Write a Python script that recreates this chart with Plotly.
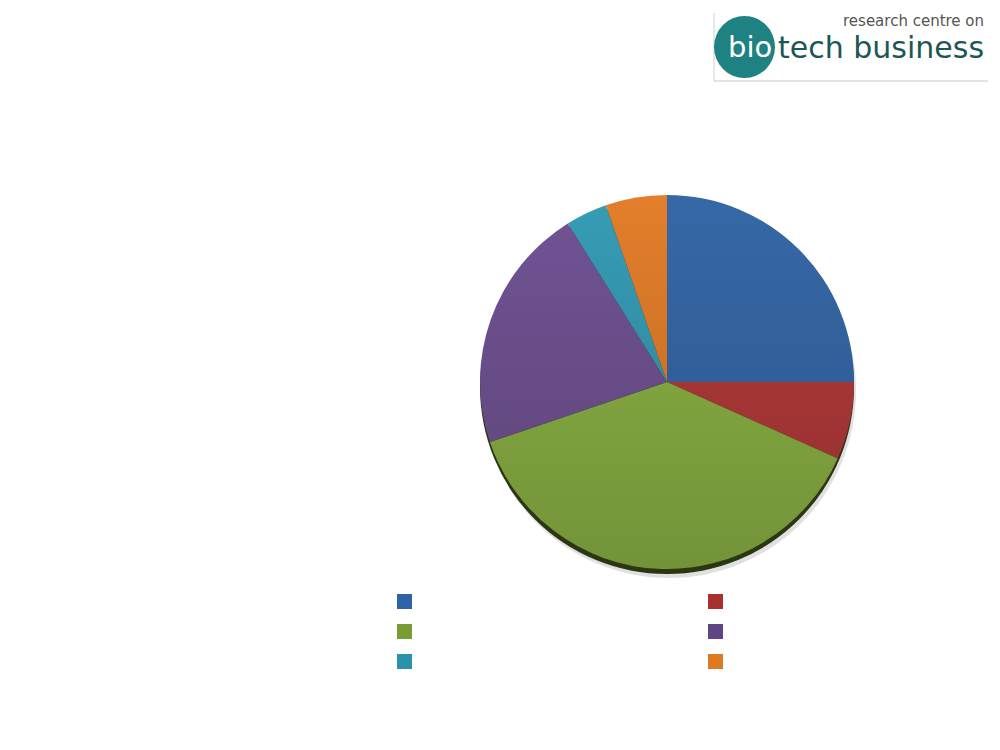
import base64
import plotly.graph_objects as go

# ---- data (clockwise from 12 o'clock) ----
categories = ["A", "B", "C", "D", "E", "F"]
values = [25.0, 6.7, 38.1, 21.3, 3.6, 5.3]
colors = ["#3668a7", "#b43a3a", "#8cb345", "#715394", "#369cb5", "#e37e2b"]
legend_colors = ["#2f62a6", "#a8302f", "#7a9c35", "#5f4586", "#2b92ab", "#de7a22"]

W, H = 1000, 750
OFF = 8  # page body margin offset
cx, cy, r = 667, 382, 187  # pixel geometry of pie (screen coords)


def px(x):
    return (x - OFF) / W


def py(y):
    return 1 - (y - OFF) / H


fig = go.Figure()
fig.add_trace(go.Pie(
    labels=categories,
    values=values,
    sort=False,
    direction="clockwise",
    rotation=0,
    marker=dict(colors=colors, line=dict(width=0)),
    textinfo="none",
    hoverinfo="label+percent",
    showlegend=False,
    domain=dict(x=[px(cx - r), px(cx + r)], y=[py(cy + r), py(cy - r)]),
))

shapes = []
# soft grey shadow + dark bevel below the pie
shapes.append(dict(type="circle", xref="paper", yref="paper", layer="below",
                   x0=px(cx - r + 2), x1=px(cx + r + 2), y0=py(cy + r + 9), y1=py(cy - r + 9),
                   fillcolor="rgba(0,0,0,0.12)", line=dict(width=0)))
shapes.append(dict(type="circle", xref="paper", yref="paper", layer="below",
                   x0=px(cx - r), x1=px(cx + r), y0=py(cy + r + 5), y1=py(cy - r + 5),
                   fillcolor="#2b3613", line=dict(width=0)))

# legend swatches (no legend text in the reference)
leg_x = [397, 708]
leg_y = [594, 624, 654]
for i, c in enumerate(legend_colors):
    x0 = leg_x[i % 2]
    y0 = leg_y[i // 2]
    shapes.append(dict(type="rect", xref="paper", yref="paper",
                       x0=px(x0), x1=px(x0 + 15), y0=py(y0 + 15), y1=py(y0),
                       fillcolor=c, line=dict(width=0)))

# logo frame
shapes.append(dict(type="line", xref="paper", yref="paper", x0=px(714), x1=px(714),
                   y0=py(81), y1=py(13), line=dict(color="#cfcfcf", width=1)))
shapes.append(dict(type="line", xref="paper", yref="paper", x0=px(714), x1=px(988),
                   y0=py(81), y1=py(81), line=dict(color="#c8c8c8", width=1)))
# logo circle
shapes.append(dict(type="circle", xref="paper", yref="paper",
                   x0=px(714), x1=px(775), y0=py(78), y1=py(16),
                   fillcolor="#1f8282", line=dict(width=0)))

# vertical shading overlay for the pie
svg = (
    '<svg xmlns="http://www.w3.org/2000/svg" width="374" height="374" viewBox="0 0 374 374">'
    '<defs><linearGradient id="g" x1="0" y1="0" x2="0" y2="1">'
    '<stop offset="0" stop-color="#000" stop-opacity="0"/>'
    '<stop offset="1" stop-color="#000" stop-opacity="0.18"/>'
    '</linearGradient></defs>'
    '<circle cx="187" cy="187" r="187" fill="url(#g)"/></svg>'
)
uri = "data:image/svg+xml;base64," + base64.b64encode(svg.encode()).decode()

fig.update_layout(
    width=W, height=H,
    margin=dict(l=0, r=0, t=0, b=0),
    paper_bgcolor="white", plot_bgcolor="white",
    shapes=shapes,
    images=[dict(source=uri, xref="paper", yref="paper", x=px(cx - r), y=py(cy - r),
                 sizex=2 * r / W, sizey=2 * r / H, xanchor="left", yanchor="top",
                 sizing="stretch", layer="above")],
    annotations=[
        dict(text="research centre on", xref="paper", yref="paper", x=px(986), y=py(21),
             xanchor="right", yanchor="middle", showarrow=False,
             font=dict(family="DejaVu Sans", size=15, color="#555555")),
        dict(text="bio", xref="paper", yref="paper",
             x=px(774), y=py(47), xanchor="right", yanchor="middle", showarrow=False,
             font=dict(family="DejaVu Sans", size=29, color="white")),
        dict(text="tech business", xref="paper", yref="paper",
             x=px(986), y=py(47), xanchor="right", yanchor="middle", showarrow=False,
             font=dict(family="DejaVu Sans", size=30, color="#1d5656")),
    ],
)

fig.write_html("out.html")
